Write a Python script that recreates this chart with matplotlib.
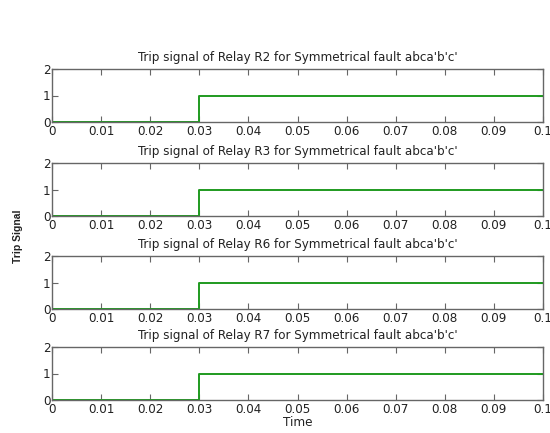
import matplotlib
matplotlib.use("Agg")
import matplotlib.pyplot as plt
from matplotlib import font_manager

# Relays and their trip instants (s)
relays = ["R2", "R3", "R6", "R7"]
trip_times = [0.03, 0.03, 0.03, 0.03]
t_end = 0.1
x_ticks = [0, 0.01, 0.02, 0.03, 0.04, 0.05, 0.06, 0.07, 0.08, 0.09, 0.1]
x_ticklabels = ["0", "0.01", "0.02", "0.03", "0.04", "0.05", "0.06", "0.07", "0.08", "0.09", "0.1"]
y_ticks = [0, 1, 2]

# Prefer a narrow face for the MATLAB-like look
narrow = [f for f in font_manager.fontManager.ttflist
          if ("narrow" in f.name.lower() or "condensed" in f.name.lower()
              or str(f.stretch) in ("condensed", "semi-condensed", "extra-condensed"))
          and str(f.weight) in ("400", "normal", "regular")
          and f.style == "normal"]
if narrow:
    tick_prop = font_manager.FontProperties(fname=narrow[0].fname, size=9.5)
    title_prop = font_manager.FontProperties(fname=narrow[0].fname, size=9.5)
else:
    tick_prop = font_manager.FontProperties(family=["Liberation Sans", "DejaVu Sans"], size=8.5)
    title_prop = font_manager.FontProperties(family=["Liberation Sans", "DejaVu Sans"], size=7.9)

fig = plt.figure(figsize=(5.5, 4.33), dpi=100)
W, H = 550, 433
left, right = 52, 543
tops = [69, 163, 256, 347]
height = 53
green = "#1f9a1f"
spine = "#666666"
ink = "#222222"

for i, (relay, tt) in enumerate(zip(relays, trip_times)):
    ax = fig.add_axes([left / W, 1 - (tops[i] + height) / H, (right - left) / W, height / H])
    ax.plot([0, tt, tt, t_end], [0, 0, 1, 1], color=green, lw=1.4)
    ax.set_xlim(0, t_end)
    ax.set_ylim(0, 2)
    ax.set_xticks(x_ticks)
    ax.set_xticklabels(x_ticklabels, fontproperties=tick_prop)
    ax.set_yticks(y_ticks)
    ax.set_yticklabels([str(v) for v in y_ticks], fontproperties=tick_prop)
    ax.tick_params(direction="in", top=True, right=True, length=4, width=0.8,
                   color=spine, labelcolor=ink)
    ax.tick_params(axis="x", pad=2.5)
    ax.tick_params(axis="y", pad=1)
    for s in ax.spines.values():
        s.set_color(spine)
        s.set_linewidth(1.0)
    ax.set_title(f"Trip signal of Relay {relay} for Symmetrical fault abca'b'c'",
                 fontproperties=title_prop, pad=6, color=ink)
    if i == len(relays) - 1:
        ax.set_xlabel("Time", fontproperties=tick_prop, labelpad=0, color=ink)

fig.text(18 / W, 1 - 236 / H, "Trip Signal", rotation=90, fontsize=7.5,
         family=["Liberation Sans", "DejaVu Sans"],
         fontweight="bold", ha="center", va="center", color=ink)

fig.savefig("out.png", dpi=100)
